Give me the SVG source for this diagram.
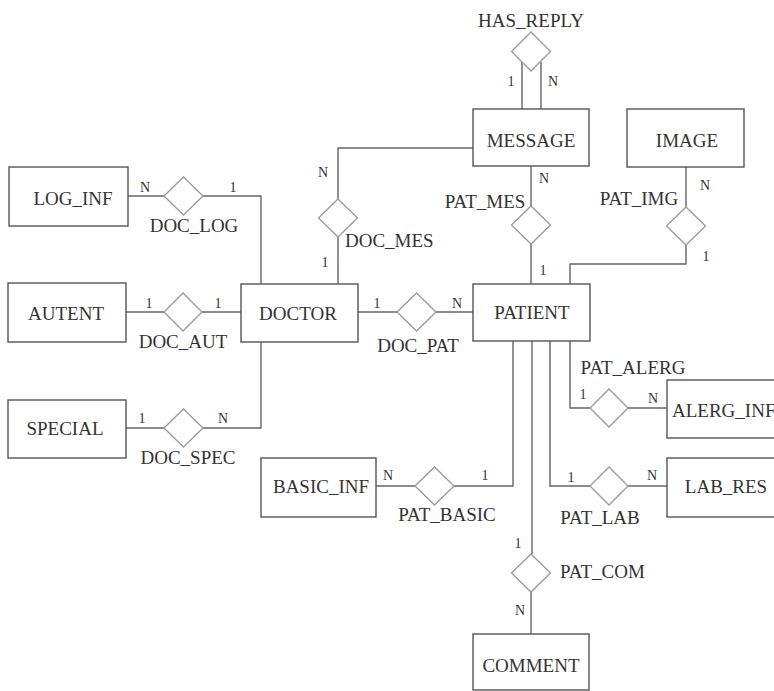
<svg xmlns="http://www.w3.org/2000/svg" width="774" height="691" viewBox="0 0 774 691">
<style>
.bg{fill:#ffffff}
.ent{fill:#ffffff;stroke:#555;stroke-width:1.4}
.rel{fill:#ffffff;stroke:#999;stroke-width:1.3}
.ln{fill:none;stroke:#666;stroke-width:1.4}
.t{font-family:"Liberation Serif","Times New Roman",serif;font-size:19px;fill:#333;text-anchor:middle}
.c{font-family:"Liberation Serif","Times New Roman",serif;font-size:14px;fill:#333;text-anchor:middle}
</style>
<rect class="bg" x="0" y="0" width="774" height="691"/>
<g id="connectors">
<line class="ln" x1="522" y1="62" x2="522" y2="109"/>
<line class="ln" x1="541" y1="62" x2="541" y2="109"/>
<polyline class="ln" points="473,148 338,148 338,199"/>
<line class="ln" x1="338" y1="237" x2="338" y2="284"/>
<line class="ln" x1="531" y1="166" x2="531" y2="206"/>
<line class="ln" x1="531" y1="244" x2="531" y2="284"/>
<line class="ln" x1="686" y1="167" x2="686" y2="207"/>
<polyline class="ln" points="686,245 686,264 570,264 570,284"/>
<line class="ln" x1="358" y1="312" x2="397" y2="312"/>
<line class="ln" x1="436" y1="312" x2="473" y2="312"/>
<line class="ln" x1="128" y1="196" x2="164" y2="196"/>
<polyline class="ln" points="203,196 261,196 261,284"/>
<line class="ln" x1="126" y1="312" x2="164" y2="312"/>
<line class="ln" x1="202" y1="312" x2="241" y2="312"/>
<line class="ln" x1="126" y1="428" x2="164" y2="428"/>
<polyline class="ln" points="203,428 261,428 261,342"/>
<polyline class="ln" points="570,341 570,408 590,408"/>
<line class="ln" x1="628" y1="408" x2="667" y2="408"/>
<polyline class="ln" points="550,341 550,486 590,486"/>
<line class="ln" x1="628" y1="486" x2="667" y2="486"/>
<polyline class="ln" points="513,341 513,486 454,486"/>
<line class="ln" x1="415" y1="486" x2="376" y2="486"/>
<line class="ln" x1="532" y1="341" x2="532" y2="554"/>
<line class="ln" x1="531" y1="592" x2="531" y2="634"/>
<text class="c" x="511" y="86">1</text>
<text class="c" x="553" y="86">N</text>
<text class="c" x="544" y="183">N</text>
<text class="c" x="543" y="275">1</text>
<text class="c" x="323" y="177">N</text>
<text class="c" x="325" y="267">1</text>
<text class="c" x="705" y="190">N</text>
<text class="c" x="706" y="261">1</text>
<text class="c" x="145" y="192">N</text>
<text class="c" x="233" y="192">1</text>
<text class="c" x="149" y="308">1</text>
<text class="c" x="218" y="308">1</text>
<text class="c" x="377" y="308">1</text>
<text class="c" x="457" y="308">N</text>
<text class="c" x="142" y="423">1</text>
<text class="c" x="223" y="423">N</text>
<text class="c" x="583" y="399">1</text>
<text class="c" x="653" y="403">N</text>
<text class="c" x="571" y="482">1</text>
<text class="c" x="652" y="480">N</text>
<text class="c" x="388" y="480">N</text>
<text class="c" x="485" y="480">1</text>
<text class="c" x="518" y="548">1</text>
<text class="c" x="520" y="615">N</text>
</g>
<g id="MESSAGE"><rect class="ent" x="473" y="109" width="116" height="57"/><text class="t" x="531" y="147">MESSAGE</text></g>
<g id="IMAGE"><rect class="ent" x="627" y="109" width="117" height="58"/><text class="t" x="687" y="147">IMAGE</text></g>
<g id="DOCTOR"><rect class="ent" x="241" y="284" width="117" height="58"/><text class="t" x="298" y="320">DOCTOR</text></g>
<g id="PATIENT"><rect class="ent" x="473" y="284" width="117" height="57"/><text class="t" x="532" y="319">PATIENT</text></g>
<g id="LOG_INF"><rect class="ent" x="9" y="167" width="119" height="59"/><text class="t" x="73" y="205">LOG_INF</text></g>
<g id="AUTENT"><rect class="ent" x="8" y="283" width="118" height="59"/><text class="t" x="66" y="320">AUTENT</text></g>
<g id="SPECIAL"><rect class="ent" x="8" y="400" width="118" height="58"/><text class="t" x="65" y="435">SPECIAL</text></g>
<g id="ALERG_INF"><rect class="ent" x="667" y="380" width="113" height="58"/><text class="t" x="672" y="417" style="text-anchor:start">ALERG_INF</text></g>
<g id="LAB_RES"><rect class="ent" x="667" y="458" width="118" height="59"/><text class="t" x="726" y="493">LAB_RES</text></g>
<g id="BASIC_INF"><rect class="ent" x="261" y="458" width="115" height="59"/><text class="t" x="321" y="493">BASIC_INF</text></g>
<g id="COMMENT"><rect class="ent" x="473" y="634" width="116" height="56"/><text class="t" x="531" y="672">COMMENT</text></g>
<g id="HAS_REPLY"><polygon class="rel" points="531,32 550.5,51.5 531,71 511.5,51.5"/><text class="t" x="531" y="27">HAS_REPLY</text></g>
<g id="DOC_MES"><polygon class="rel" points="338,199 357.5,218 338,237 318.5,218"/><text class="t" x="345" y="247" style="text-anchor:start">DOC_MES</text></g>
<g id="PAT_MES"><polygon class="rel" points="531,206 550.5,225 531,244 511.5,225"/><text class="t" x="485" y="208">PAT_MES</text></g>
<g id="PAT_IMG"><polygon class="rel" points="686,207 705.5,226 686,245 666.5,226"/><text class="t" x="639" y="205">PAT_IMG</text></g>
<g id="DOC_LOG"><polygon class="rel" points="183.5,177 203,196 183.5,215 164,196"/><text class="t" x="194" y="232">DOC_LOG</text></g>
<g id="DOC_AUT"><polygon class="rel" points="183,293 202,312 183,331 164,312"/><text class="t" x="183" y="348">DOC_AUT</text></g>
<g id="DOC_SPEC"><polygon class="rel" points="183.5,409 203,428 183.5,447 164,428"/><text class="t" x="188" y="464">DOC_SPEC</text></g>
<g id="DOC_PAT"><polygon class="rel" points="416.5,293 436,312 416.5,331 397,312"/><text class="t" x="418" y="352">DOC_PAT</text></g>
<g id="PAT_ALERG"><polygon class="rel" points="609,389 628,408 609,427 590,408"/><text class="t" x="633" y="374">PAT_ALERG</text></g>
<g id="PAT_LAB"><polygon class="rel" points="609,467 628,486 609,505 590,486"/><text class="t" x="600" y="524">PAT_LAB</text></g>
<g id="PAT_BASIC"><polygon class="rel" points="434.5,467 454,486 434.5,505 415,486"/><text class="t" x="447" y="521">PAT_BASIC</text></g>
<g id="PAT_COM"><polygon class="rel" points="531,554 550.5,573 531,592 511.5,573"/><text class="t" x="560" y="578" style="text-anchor:start">PAT_COM</text></g>
</svg>
